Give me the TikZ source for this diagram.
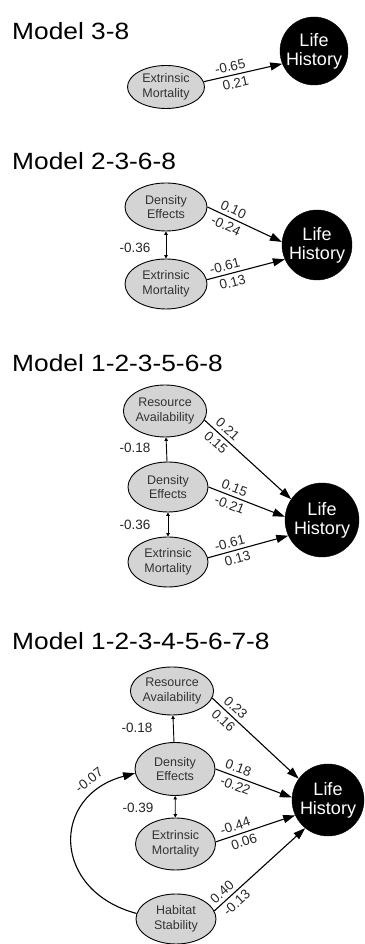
\documentclass[tikz,border=0pt]{standalone}
\usepackage{fontspec}
\setmainfont{Liberation Sans}
\newfontfamily\headfont{Liberation Sans}[FakeStretch=1.12]
\usetikzlibrary{arrows.meta,shapes.geometric}

\tikzset{
  factor/.style={ellipse, draw=black, line width=0.9pt, fill=black!17,
    text=black!80, align=center, inner sep=0pt,
    minimum width=80pt, minimum height=50pt, font=\fontsize{12.5}{14.5}\selectfont},
  outcome/.style={circle, draw=black, fill=black, text=white, align=center,
    inner sep=0pt, minimum size=72pt, font=\fontsize{18}{19}\selectfont},
  effect/.style={-{Triangle[length=12pt,width=8pt]}, line width=1.1pt},
  uplink/.style={-{Triangle[length=3.5pt,width=3.5pt]}, line width=0.9pt},
  link/.style={{Triangle[length=3.5pt,width=3.5pt]}-{Triangle[length=3.5pt,width=3.5pt]}, line width=0.9pt},
  coef/.style={font=\fontsize{13.5}{14}\selectfont, text=black!85, inner sep=3.5pt},
  heading/.style={anchor=base west, inner sep=0pt, font=\headfont\fontsize{23.5}{24}\selectfont}
}

\begin{document}
\begin{tikzpicture}[x=1pt,y=1pt]
      \useasboundingbox (0,0) rectangle (364,944);
      % model 3-8
      \node[heading] (t1) at (12,904) {Model 3-8};
      \node[factor, minimum width=77pt, minimum height=43pt] (em1) at (166,857) {Extrinsic\\Mortality};
      \node[outcome, minimum size=68pt] (lh1) at (314,893) {Life\\History};
      \draw[effect] (em1.8) -- (lh1.202)
        node[coef, pos=0.36, above, sloped] (c1a) {-0.65}
        node[coef, pos=0.38, below, sloped] (c1b) {0.21};
      % model 2-3-6-8
      \node[heading] (t2) at (12,774) {Model 2-3-6-8};
      \node[factor, minimum width=82pt, minimum height=48pt] (de2) at (166,737) {Density\\Effects};
      \node[factor, minimum width=82pt, minimum height=50pt] (em2) at (166,660) {Extrinsic\\Mortality};
      \node[outcome, minimum size=70pt] (lh2) at (317,699) {Life\\History};
      \begin{scope}
        \draw[effect] (de2.east) -- (lh2.175)
          node[coef, pos=0.3, above, sloped] (c2a) {0.10}
          node[coef, pos=0.3, below, sloped] (c2b) {-0.24};
        \draw[effect] (em2.6) -- (lh2.204)
          node[coef, pos=0.26, above, sloped] (c2c) {-0.61}
          node[coef, pos=0.3, below, sloped] (c2d) {0.13};
        \draw[link] (de2) -- (em2);
      \end{scope}
      \node[coef] (c2e) at (135,696) {-0.36};
      % model 1-2-3-5-6-8
      \node[heading] (t3) at (12,572) {Model 1-2-3-5-6-8};
      \node[factor, minimum height=52pt] (ra3) at (165,533) {Resource\\Availability};
      \node[factor] (de3) at (168,457) {Density\\Effects};
      \node[factor] (em3) at (168,382) {Extrinsic\\Mortality};
      \node[outcome, minimum size=74pt] (lh3) at (322,424) {Life\\History};
      \begin{scope}
        \draw[effect] (ra3.-13) -- (lh3.146)
          node[coef, pos=0.2, above, sloped] (c3a) {0.21}
          node[coef, pos=0.2, below, sloped] (c3b) {0.15};
        \draw[effect] (de3.east) -- (lh3.175)
          node[coef, pos=0.3, above, sloped] (c3c) {0.15}
          node[coef, pos=0.32, below, sloped] (c3d) {-0.21};
        \draw[effect] (em3.6) -- (lh3.205)
          node[coef, pos=0.3, above, sloped] (c3e) {-0.61}
          node[coef, pos=0.34, below, sloped] (c3f) {0.13};
        \draw[uplink] (de3) -- (ra3);
        \draw[link] (de3) -- (em3);
      \end{scope}
      \node[coef] (c3g) at (135,496) {-0.18};
      \node[coef] (c3h) at (135,419) {-0.36};
      % model 1-2-3-4-5-6-7-8
      \node[heading] (t4) at (12,294) {Model 1-2-3-4-5-6-7-8};
      \node[factor, minimum width=78pt, minimum height=48pt] (ra4) at (172,253) {Resource\\Availability};
      \node[factor, minimum height=53pt] (de4) at (175,175) {Density\\Effects};
      \node[factor, minimum height=52pt] (em4) at (175.5,100) {Extrinsic\\Mortality};
      \node[factor] (hs4) at (176,25) {Habitat\\Stability};
      \node[outcome] (lh4) at (328,144) {Life\\History};
      \begin{scope}
        \draw[effect] (ra4.-10) -- (lh4.144)
          node[coef, pos=0.2, above, sloped] (c4a) {0.23}
          node[coef, pos=0.2, below, sloped] (c4b) {0.16};
        \draw[effect] (de4.east) -- (lh4.176)
          node[coef, pos=0.26, above, sloped] (c4c) {0.18}
          node[coef, pos=0.3, below, sloped] (c4d) {-0.22};
        \draw[effect] (em4.3) -- (lh4.205)
          node[coef, pos=0.28, above, sloped] (c4e) {-0.44}
          node[coef, pos=0.32, below, sloped] (c4f) {0.06};
        \draw[effect] (hs4.12) -- (lh4.231)
          node[coef, pos=0.15, above, sloped] (c4g) {0.40}
          node[coef, pos=0.18, below, sloped] (c4h) {-0.13};
        \draw[uplink] (de4) -- (ra4);
        \draw[link] (de4) -- (em4);
        \draw[effect] (hs4.172) to[out=165, in=195, looseness=1.6] (de4.186);
      \end{scope}
      \node[coef] (c4i) at (137,216) {-0.18};
      \node[coef] (c4j) at (138,136) {-0.39};
      \node[coef, rotate=38] (c4k) at (89,164) {-0.07};
    \end{tikzpicture}
\end{document}
